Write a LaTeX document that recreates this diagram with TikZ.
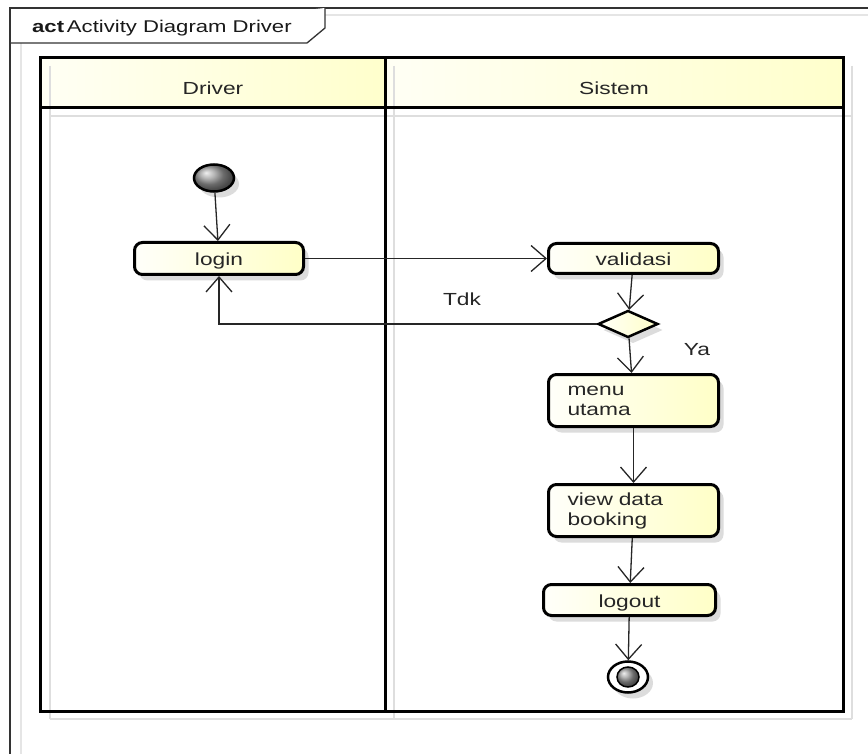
\documentclass[tikz,border=0pt]{standalone}
\usepackage{fontspec}
\setmainfont[FakeStretch=1.3]{Liberation Sans}
\usetikzlibrary{arrows.meta,shapes.geometric,shadows}

\begin{document}
\begin{tikzpicture}[x=1pt,y=-1pt,
  txt/.style={font=\fontsize{17.5}{20}\selectfont, text=black!85},
  boxshadow/.style={drop shadow={shadow xshift=5pt,shadow yshift=-6pt,fill=black!30,opacity=0.45}},
  actbox/.style={txt, draw=black, line width=3pt, rounded corners=8pt,
    left color=yellow!2, right color=yellow!22, boxshadow,
    inner sep=0pt, minimum width=170pt, minimum height=30pt},
  oneline/.style={actbox, text height=15pt, text depth=0pt},
  twoline/.style={actbox, align=left, text width=132pt, inner xsep=19pt, minimum height=52pt},
  conn/.style={-{Straight Barb[length=15pt,width=26pt]}, line width=1.3pt, draw=black!85},
  lanehead/.style={left color=yellow!4, right color=yellow!20},
  laneline/.style={line width=3pt, draw=black},
  laneshade/.style={line width=2pt, draw=black!13},
  framestroke/.style={line width=1.3pt, draw=black!80},
  label/.style={txt, inner sep=0pt}
]
% canvas
\fill[white] (0,0) rectangle (868,754);
\useasboundingbox (0,0) rectangle (868,754);

% outer frame with its faint inner line
\draw[black!10, line width=1.5pt] (325,15) -- (868,15);
\draw[black!10, line width=1.5pt] (21,43) -- (21,754);
\draw[framestroke] (10,754) -- (10,8) -- (868,8);
\draw[framestroke, fill=white] (10,43) -- (307,43) -- (325,28) -- (325,8);
\node[anchor=base west, inner sep=0pt, font=\fontsize{17}{20}\selectfont, text=black!90]
  (title) at (32,33) {\textbf{act}\,Activity Diagram Driver};

% swimlane headers
\fill[lanehead] (40,58) rectangle (385,108);
\fill[lanehead] (385,58) rectangle (843,108);

% swimlane shadow lines
\draw[laneshade] (50,66) -- (50,719);
\draw[laneshade] (394,66) -- (394,719);
\draw[laneshade] (852,66) -- (852,719);
\draw[laneshade] (50,116) -- (852,116);
\draw[laneshade] (50,719) -- (852,719);

% swimlane borders
\draw[laneline] (40,58) rectangle (843,711);
\draw[laneline] (40,108) -- (843,108);
\draw[laneline] (385,58) -- (385,711);

\node[label] (laneDriver) at (213,88) {Driver};
\node[label] (laneSistem) at (614,88) {Sistem};

% activity nodes
\node[ellipse, draw=black, line width=2.5pt, shading=ball, ball color=black!40,
  minimum width=40pt, minimum height=27pt, inner sep=0pt, boxshadow] (start) at (214,178) {};
\node[oneline, minimum width=169pt, minimum height=32pt] (login) at (219,258.5) {login};
\node[oneline] (validasi) at (633.5,258.5) {validasi};
\node[diamond, draw=black, line width=2.5pt, left color=yellow!2, right color=yellow!22,
  minimum width=60pt, minimum height=27pt, inner sep=0pt, boxshadow] (dec) at (628,324) {};
\node[twoline] (menu) at (633.5,400.5) {menu\\utama};
\node[twoline] (view) at (633.5,510.5) {view data\\booking};
\node[oneline, minimum width=172pt, minimum height=31pt] (logout) at (629.5,600) {logout};
\node[ellipse, draw=black, line width=2.5pt, fill=white,
  minimum width=40pt, minimum height=31pt, inner sep=0pt, boxshadow] (final) at (628,677) {};
\fill[shading=ball, ball color=black!40] (final.center) ellipse (11pt and 10pt);
\draw[black, line width=1.5pt] (final.center) ellipse (11pt and 10pt);

% guard labels
\node[label] (tdk) at (462,299) {Tdk};
\node[label] (ya) at (697,350) {Ya};

% control flows
\draw[conn] (start) -- (login);
\draw[conn] (login) -- (validasi);
\draw[conn] (validasi) -- (dec);
\draw[conn] (dec) -| (login);
\draw[conn] (dec) -- (menu);
\draw[conn] (menu) -- (view);
\draw[conn] (view) -- (logout);
\draw[conn] (logout) -- (final);
\end{tikzpicture}
\end{document}
